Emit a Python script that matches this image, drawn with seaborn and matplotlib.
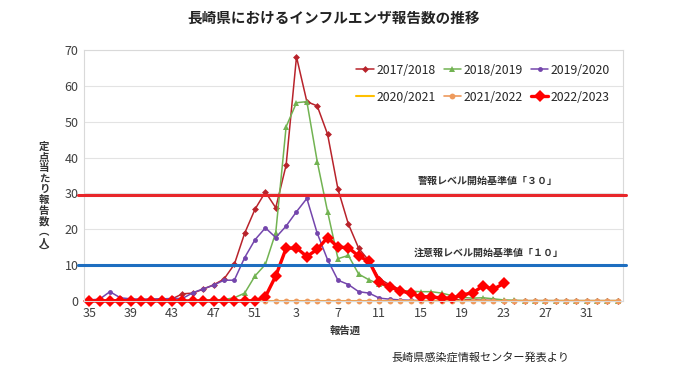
import numpy as np
import pandas as pd
import matplotlib
matplotlib.use("Agg")
import matplotlib.pyplot as plt
import seaborn as sns

# ---------------------------------------------------------------------------
# Data
# ---------------------------------------------------------------------------
week_labels = list(range(35, 53)) + list(range(1, 35))

s2017_2018 = [0.2, 0.2, 0.3, 0.3, 0.4, 0.4, 0.5, 0.6, 0.6, 2.0,
              2.2, 3.3, 4.5, 6.1, 10.2, 18.9, 25.6, 30.4, 26.0, 37.9,
              68.1, 55.6, 54.4, 46.5, 31.2, 21.5, 14.7, 11.2, 6.2, 4.5,
              3.2, 2.0, 1.2, 0.8, 0.6, 0.5, 0.3, 0.3, 0.2, 0.2,
              0.1, 0.1, 0.1, 0.1, 0.1, 0.1, 0.1, 0.1, 0.1, 0.1, 0.1, 0.1]
s2018_2019 = [0.1, 0.1, 0.1, 0.1, 0.1, 0.1, 0.1, 0.2, 0.2, 0.2, 0.2, 0.3, 0.3, 0.4,
              0.9, 2.2, 7.0, 10.2, 19.1, 48.6, 55.3, 55.6, 38.9, 24.9,
              11.8, 12.7, 7.5, 5.9, 4.7, 3.8, 3.0, 2.7, 2.6, 2.6,
              2.2, 1.5, 1.0, 0.8, 0.9, 0.6, 0.3, 0.2, 0.1, 0.1, 0.1, 0.1,
              0.1, 0.1, 0.1, 0.1, 0.1, 0.1]
s2019_2020 = [0.3, 0.5, 2.6, 0.9, 0.6, 0.5, 0.5, 0.6, 0.7, 0.7,
              2.3, 3.4, 4.4, 5.8, 5.8, 12.1, 17.1, 20.4, 17.7, 20.9,
              24.9, 28.6, 18.9, 11.5, 5.8, 4.6, 2.6, 2.2, 0.8, 0.5,
              0.3, 0.2, 0.1, 0.1, 0.0, 0.0, 0.0, 0.0, 0.0, 0.0,
              0.0, 0.0, 0.0, 0.0, 0.0, 0.0, 0.0, 0.0, 0.0, 0.0, 0.0, 0.0]
s2020_2021 = [0.0] * 52
s2021_2022 = [0.0] * 52
s2022_2023 = [0.0, 0.0, 0.0, 0.0, 0.0, 0.0, 0.0, 0.0, 0.0, 0.0,
              0.0, 0.0, 0.0, 0.0, 0.0, 0.0, 0.1, 1.2, 7.0, 14.7,
              14.8, 12.4, 14.4, 17.7, 15.0, 14.9, 12.5, 11.1, 5.3, 3.9,
              2.9, 2.1, 1.2, 1.2, 0.8, 0.8, 1.7, 2.3, 4.2, 3.3, 4.9]

alarm_level = 29.7
warning_level = 10

# ---------------------------------------------------------------------------
# Styling
# ---------------------------------------------------------------------------
sns.set_theme(style="white")
plt.rcParams["font.family"] = ["Noto Sans CJK JP", "DejaVu Sans"]

fig = plt.figure(figsize=(6.8, 3.82), dpi=100)
ax = fig.add_axes([84 / 680, 1 - 301 / 382, 539 / 680, 251 / 382])

series = [
    ("2017/2018", s2017_2018, dict(color="#B8232B", marker="D", markersize=3.5, linewidth=1.1)),
    ("2018/2019", s2018_2019, dict(color="#72B352", marker="^", markersize=4.5, linewidth=1.1)),
    ("2019/2020", s2019_2020, dict(color="#7446AC", marker="o", markersize=3.5, linewidth=1.1)),
    ("2020/2021", s2020_2021, dict(color="#FFC000", linewidth=1.5)),
    ("2021/2022", s2021_2022, dict(color="#EE9A5C", marker="o", markersize=4.2, linewidth=1.2)),
    ("2022/2023", s2022_2023, dict(color="#FF0000", marker="D", markersize=6.5, linewidth=2.4)),
]

for name, vals, style in series:
    df = pd.DataFrame({"pos": np.arange(len(vals)), "value": vals})
    sns.lineplot(data=df, x="pos", y="value", ax=ax, label=name,
                 markeredgewidth=0, clip_on=False, **style)

# threshold lines (extend a little past the plot area, as in the original)
trans = ax.get_yaxis_transform()
ax.plot([-0.012, 1.006], [alarm_level] * 2, color="#E8262A", lw=2.2,
        transform=trans, clip_on=False, zorder=5)
ax.plot([-0.012, 1.006], [warning_level] * 2, color="#1E6EC0", lw=2.2,
        transform=trans, clip_on=False, zorder=5)
ax.text(38.5, 33.5, "警報レベル開始基準値「３０」", ha="center", va="center",
        fontsize=7.2, fontweight="bold", color="#333333")
ax.text(38.5, 13.4, "注意報レベル開始基準値「１０」", ha="center", va="center",
        fontsize=7.2, fontweight="bold", color="#333333")

# axes
ax.set_xlim(-0.5, 51.5)
ax.set_ylim(0, 70)
tick_pos = list(range(0, 52, 4))
ax.set_xticks(tick_pos)
ax.set_xticklabels([str(week_labels[i]) for i in tick_pos])
ax.set_yticks(range(0, 71, 10))
ax.tick_params(axis="both", labelsize=9, colors="#404040", length=0, pad=4)
ax.yaxis.grid(True, color="#E3E3E3", linewidth=0.8)
ax.set_axisbelow(True)
for sp in ax.spines.values():
    sp.set_color("#D9D9D9")
    sp.set_linewidth(0.8)
ax.set_xlabel("")
ax.set_ylabel("")

# legend: two rows of three
handles, labels = ax.get_legend_handles_labels()
order = [0, 3, 1, 4, 2, 5]
ax.legend([handles[i] for i in order], [labels[i] for i in order],
          ncol=3, loc="upper right", bbox_to_anchor=(0.985, 0.965),
          frameon=False, fontsize=8.8, handlelength=1.4, handletextpad=0.2,
          columnspacing=0.7, labelspacing=1.15, borderaxespad=0)

# texts
fig.text(0.49, 0.953, "長崎県におけるインフルエンザ報告数の推移", ha="center",
         va="center", fontsize=10.5, fontweight="bold", color="#222222")
fig.text(345 / 680, 1 - 331 / 382, "報告週", ha="center", va="center",
         fontsize=7.5, fontweight="bold", color="#333333")
# vertical y-axis label, one character per line
ylab_chars = list("定点当たり報告数") + ["︵", "人", "︶"]
for i, ch in enumerate(ylab_chars):
    fig.text(44 / 680, 1 - (147 + i * 10.6) / 382, ch, ha="center", va="center",
             fontsize=7.5, fontweight="bold", color="#333333")
fig.text(480 / 680, 1 - 357 / 382, "長崎県感染症情報センター発表より", ha="center",
         va="center", fontsize=8, color="#222222")

fig.savefig("out.png", dpi=100)
